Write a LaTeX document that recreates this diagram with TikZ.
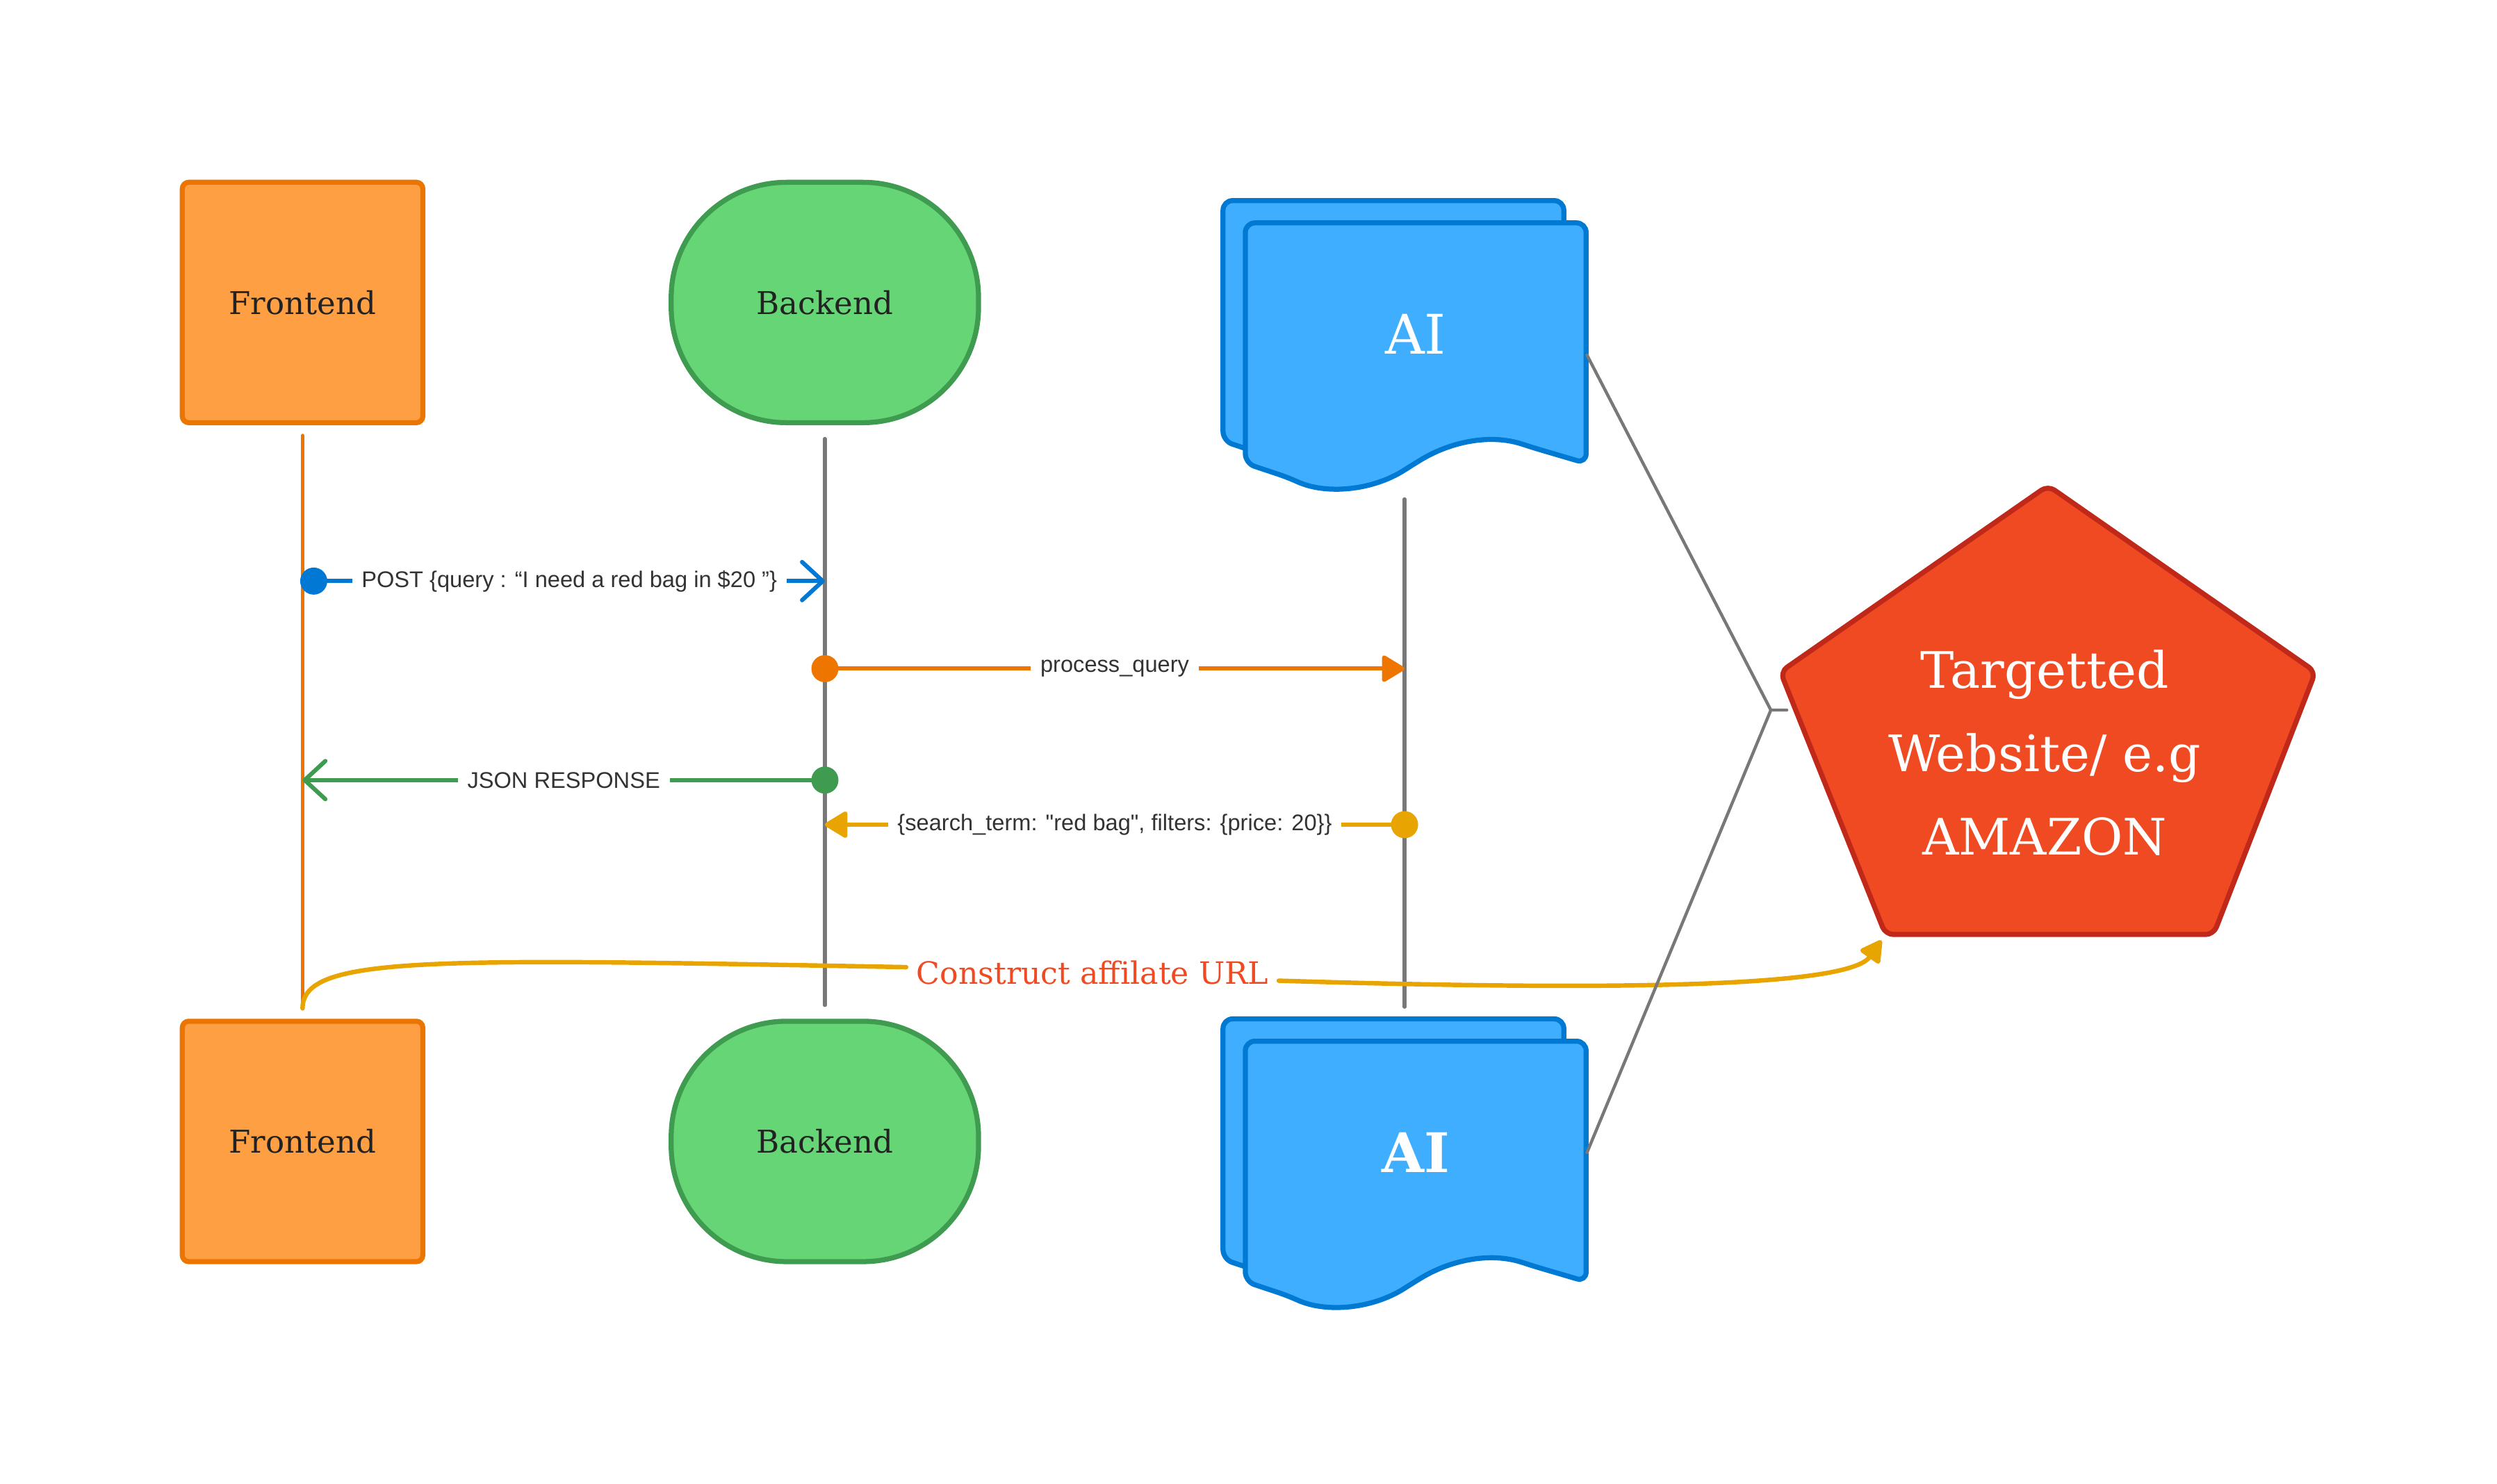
\documentclass[tikz,border=0pt]{standalone}
\usepackage{fontspec}
\setmainfont{DejaVu Serif}
\newfontfamily\msgfont{Liberation Sans}
\usetikzlibrary{arrows.meta,positioning}

\definecolor{feFill}{HTML}{FF9F43}
\definecolor{feLine}{HTML}{EC7400}
\definecolor{beFill}{HTML}{66D575}
\definecolor{beLine}{HTML}{3E9B4F}
\definecolor{aiFill}{HTML}{3FAEFF}
\definecolor{aiLine}{HTML}{0079D3}
\definecolor{siteFill}{HTML}{F04A23}
\definecolor{siteLine}{HTML}{C0281A}
\definecolor{lifeGray}{HTML}{787878}
\definecolor{postBlue}{HTML}{0078D4}
\definecolor{procOrange}{HTML}{EE7600}
\definecolor{jsonGreen}{HTML}{3E9B4F}
\definecolor{gold}{HTML}{E8A400}
\definecolor{urlRed}{HTML}{F04A23}
\definecolor{ink}{HTML}{222222}
\definecolor{lblInk}{HTML}{333333}

\begin{document}
\begin{tikzpicture}[x=0.2mm, y=-0.2mm, semithick]

    \tikzstyle{frontbox} = [rectangle, rounded corners=0.8mm, minimum width=30.2mm, minimum height=30.2mm, line width=1.8pt, draw=feLine, fill=feFill, text=ink, font=\fontsize{11.2}{13}\selectfont]
    \tikzstyle{backbox}  = [rectangle, rounded corners=14.5mm, minimum width=38.6mm, minimum height=30.2mm, line width=1.8pt, draw=beLine, fill=beFill, text=ink, font=\fontsize{11.2}{13}\selectfont]
    \tikzstyle{aipage}   = [draw=aiLine, fill=aiFill, line width=1.8pt, rounded corners=1.2mm, line join=round]
    \tikzstyle{aitext}   = [rectangle, minimum width=42.8mm, minimum height=28mm, text=white, font=\fontsize{19.5}{22}\selectfont]
    \tikzstyle{life}     = [draw=lifeGray, line width=1.3pt, line cap=round]
    \tikzstyle{dot}      = [circle, minimum size=3.4mm, inner sep=0pt]
    \tikzstyle{msg}      = [line width=1.5pt, line cap=round]
    \tikzstyle{openhead} = [-{Straight Barb[length=2.6mm,width=4.8mm,round]}]
    \tikzstyle{fullhead} = [-{Triangle[length=3.1mm,width=3.6mm,round]}]
    \tikzstyle{lbl}      = [fill=white, inner xsep=1.2mm, inner ysep=0.5mm, text=lblInk, font=\msgfont\fontsize{8.1}{9.5}\selectfont]
    \tikzstyle{site}     = [draw=siteLine, fill=siteFill, line width=1.8pt, rounded corners=1mm, line join=round]
    \tikzstyle{sitetext} = [align=center, text=white, font=\fontsize{18}{29.8}\selectfont]
    \tikzstyle{urltext}  = [text=urlRed, font=\fontsize{11}{13}\selectfont]
    \tikzstyle{urlcurve} = [draw=gold, line width=1.6pt, line cap=round]
    \tikzstyle{bracket}  = [draw=lifeGray, line width=1.1pt, line cap=round, line join=round]

    \useasboundingbox (0,0) rectangle (1568,932);

    \node (fe1)  [frontbox] at (190,190)             {Frontend};
    \node (be1)  [backbox, right=30.56mm of fe1]     {Backend};
    \node (fe2)  [frontbox, below=74.56mm of fe1]    {Frontend};
    \node (be2)  [backbox, below=74.56mm of be1]     {Backend};

    \foreach \dy in {0,514}
        \foreach \s in {-14,0}
            \draw[aipage, shift={(0,\dy)}, shift={(\s,\s)}] (782,291) -- (782,140) -- (996,140) -- (996,291) -- (962,281)
                .. controls (935,272) and (910,278) .. (887,292)
                .. controls (862,308) and (833,311) .. (809,300) -- cycle;

    \node (ai1)  [aitext] at (889,210)                      {AI};
    \node (ai2)  [aitext, font=\fontsize{19.5}{22}\selectfont\bfseries] at (889,724) {AI};

    \coordinate (pT)  at (1286,305);
    \coordinate (pR)  at (1454,422);
    \coordinate (pBR) at (1390,587);
    \coordinate (pBL) at (1184,587);
    \coordinate (pL)  at (1118,422);
    \draw[site] (pT) -- (pR) -- (pBR) -- (pBL) -- (pL) -- cycle;
    \node (target) [sitetext] at (1284,473) {Targetted\\Website/ e.g\\AMAZON};

    \coordinate (ailine) at ([xshift=-1.4mm]ai1.south);
    \draw[life, draw=feLine, shorten <=1.3mm, shorten >=1.3mm] (fe1.south) -- (fe2.north);
    \draw[life, shorten <=1.7mm, shorten >=1.7mm]              (be1.south) -- (be2.north);
    \draw[life, shorten <=6.6mm, shorten >=4.2mm]              (ailine) -- ([xshift=-1.4mm]ai2.north);

    \node (postdot)   [dot, fill=postBlue]   at (197,365) {};
    \node (procdot)   [dot, fill=procOrange] at (518,420) {};
    \node (jsondot)   [dot, fill=jsonGreen]  at (518,490) {};
    \node (searchdot) [dot, fill=gold]       at (882,518) {};

    \draw[msg, openhead, draw=postBlue]   (postdot.center)   -- node (postlbl)   [lbl] {POST \{query : “I need a red bag in \$20 ”\}} (be1.south |- postdot);
    \draw[msg, fullhead, draw=procOrange] (procdot.center)   -- node (proclbl)   [lbl] {process\_query} (ailine |- procdot);
    \draw[msg, openhead, draw=jsonGreen]  (jsondot.center)   -- node (jsonlbl)   [lbl] {JSON RESPONSE} (fe1.south |- jsondot);
    \draw[msg, fullhead, draw=gold]       (searchdot.center) -- node (searchlbl) [lbl] {\{search\_term: "red bag", filters: \{price: 20\}\}} (be1.south |- searchdot);

    \node (url) [urltext] at (686,611) {Construct affilate URL};
    \draw[urlcurve, shorten <=1.3mm] (fe2.north) .. controls (190,600) and (270,602) .. ([yshift=0.7mm]url.west);
    \draw[urlcurve, -{Triangle[length=3mm,width=3.2mm,round]}, shorten >=0.9mm] ([yshift=-1mm]url.east) .. controls (1000,622) and (1160,621) .. (pBL);

    \coordinate (fork)   at (1112,446);
    \coordinate (siteIn) at (1122,446);
    \draw[bracket] ([yshift=-2.6mm]ai1.east) -- (fork) -- (siteIn);
    \draw[bracket] (ai2.east) -- (fork);

\end{tikzpicture}
\end{document}
